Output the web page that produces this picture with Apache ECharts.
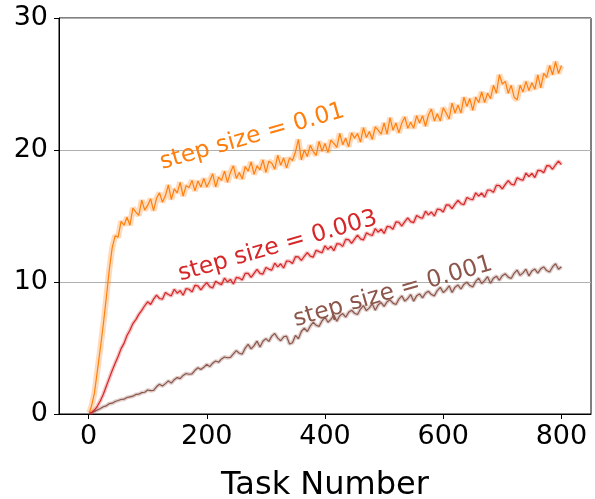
<!DOCTYPE html>
<html>
<head>
<meta charset="utf-8">
<script src="https://cdn.jsdelivr.net/npm/echarts@6/dist/echarts.min.js"></script>
<style>html,body{margin:0;padding:0;background:#fff;}#c{width:595px;height:499px;}</style>
</head>
<body>
<div id="c"></div>
<script>
const tasks = [1,5,10,15,20,25,30,35,40,45,50,55,60,65,70,75,80,85,90,95,100,105,110,115,120,125,130,135,140,145,150,155,160,165,170,175,180,185,190,195,200,205,210,215,220,225,230,235,240,245,250,255,260,265,270,275,280,285,290,295,300,305,310,315,320,325,330,335,340,345,350,355,360,365,370,375,380,385,390,395,400,405,410,415,420,425,430,435,440,445,450,455,460,465,470,475,480,485,490,495,500,505,510,515,520,525,530,535,540,545,550,555,560,565,570,575,580,585,590,595,600,605,610,615,620,625,630,635,640,645,650,655,660,665,670,675,680,685,690,695,700,705,710,715,720,725,730,735,740,745,750,755,760,765,770,775,780,785,790,795,800];

const step001 = [0.1,0.6,1.6,3.3,5.0,6.8,8.8,10.9,12.6,13.5,13.4,14.6,14.3,14.9,14.3,15.6,15.3,15.05,16.2,15.45,15.8,16.3,15.4,16.35,16.75,16.05,16.55,17.35,16.25,17.05,16.75,17.55,16.5,17.3,17.15,17.7,16.9,17.65,17.2,17.85,17.2,17.65,18.2,17.2,17.95,17.7,18.4,17.55,18.3,18.8,17.85,18.3,17.8,18.75,18.4,19.1,18.15,18.8,18.5,19.25,18.3,19.15,19.0,18.55,19.6,18.85,19.4,18.65,19.4,19.2,19.85,20.8,19.25,20.0,19.5,20.35,19.9,19.6,20.65,19.9,20.5,19.8,20.75,20.5,20.2,21.25,20.4,20.9,20.25,21.3,20.9,21.25,20.6,21.7,20.95,21.4,20.8,21.75,21.5,21.2,22.05,21.2,22.45,21.5,22.05,21.3,22.05,22.5,21.65,22.1,21.65,22.6,22.05,22.6,21.8,22.65,23.1,22.2,22.75,22.2,23.2,22.8,22.35,23.55,22.8,23.4,22.8,24.0,23.3,23.9,23.0,24.0,23.6,24.4,23.6,24.3,23.9,24.9,24.3,25.7,25.0,25.2,24.3,24.9,24.0,23.8,24.9,24.4,25.2,24.5,25.1,24.6,25.7,24.7,25.8,25.5,26.4,25.7,26.7,25.8,26.4];

const step0003 = [0.05,0.1,0.3,0.6,1.0,1.5,2.1,2.7,3.3,3.85,4.35,4.95,5.35,5.95,6.35,6.85,7.15,7.55,7.85,8.2,
8.5,8.3,8.7,9.0,8.75,8.7,9.2,9.05,8.95,9.45,9.15,9.35,9.0,9.5,9.45,9.25,9.75,
9.7,9.4,9.7,9.95,9.65,9.55,10.05,9.9,9.8,10.3,10.0,10.2,9.85,10.35,10.3,10.15,10.65,
10.65,10.35,10.65,10.95,10.65,10.6,11.1,10.98,10.9,11.43,11.15,11.38,11.06,11.59,11.57,11.4,11.92,
11.9,11.63,11.95,12.23,11.96,11.88,12.4,12.3,12.22,12.74,12.47,12.7,12.37,12.9,12.88,12.7,13.23,
13.21,12.93,13.25,13.55,13.27,13.19,13.72,13.6,13.52,14.05,13.78,14.0,13.68,14.21,14.18,14.0,14.55,
14.52,14.24,14.57,14.85,14.57,14.5,15.03,14.9,14.83,15.36,15.08,15.3,15.0,15.52,15.49,15.3,15.84,
15.83,15.56,15.9,16.19,15.93,15.86,16.4,16.29,16.23,16.76,16.5,16.74,16.43,16.96,16.95,16.79,17.33,
17.31,17.05,17.39,17.68,17.41,17.35,17.89,17.78,17.71,18.25,17.99,18.23,17.91,18.45,18.44,18.28,18.81,
18.8,18.54,18.88,19.16,18.9];

const step0001 = [0.05,0.1,0.2,0.3,0.42,0.55,0.62,0.78,0.82,0.95,1.02,1.1,1.12,1.25,1.3,1.35,1.48,1.5,1.62,1.65,
1.82,1.77,1.79,2.06,2.25,2.12,2.3,2.51,2.34,2.6,2.76,2.68,2.92,3.07,3.01,3.04,3.31,3.5,3.37,3.54,3.76,3.59,3.85,4.01,3.92,4.17,4.32,4.26,4.29,4.55,
4.8,4.6,4.54,4.99,5.28,4.93,5.18,5.52,5.07,5.51,5.71,5.5,5.9,6.1,5.75,5.55,5.85,5.9,5.3,5.4,5.95,5.7,6.25,6.5,6.25,6.65,
6.95,6.72,6.64,7.06,7.33,6.95,7.17,7.5,7.02,7.44,7.61,7.33,7.7,7.86,7.63,7.54,7.95,8.21,7.83,8.04,8.35,7.86,8.28,8.44,8.15,8.5,
8.65,8.4,8.3,8.7,8.95,8.55,8.75,9.05,8.55,8.95,9.1,8.8,9.15,9.3,9.05,8.95,9.35,9.6,9.2,9.4,9.71,9.21,9.61,9.77,9.47,9.82,
9.98,9.73,9.63,10.04,10.29,9.89,10.1,10.4,9.9,10.29,10.44,10.13,10.48,10.62,10.37,10.26,10.66,10.9,10.5,10.69,10.97,10.46,10.84,10.98,10.67,11.0,
11.14,10.87,10.76,11.14,11.38,10.96,11.15];

const xTicks = [0, 200, 400, 600, 800];
const labels = [
  {text: 'step size = 0.01', at: [277, 21.0], color: '#ff7f0e'},
  {text: 'step size = 0.003', at: [320, 12.7], color: '#d62728'},
  {text: 'step size = 0.001', at: [515, 9.25], color: '#8c564b'}
];

const chart = echarts.init(document.getElementById('c'), null, {renderer: 'canvas'});
const font = 'DejaVu Sans';
function pairs(vals) { return tasks.map((t, i) => [t, vals[i]]); }
function mk(name, vals, color, bandW) {
  return [
    {name: name + ' band', type: 'line', data: pairs(vals), showSymbol: false, silent: true,
     lineStyle: {color: color, width: bandW, opacity: 0.28}, z: 1},
    {name: name, type: 'line', data: pairs(vals), showSymbol: false, silent: true,
     lineStyle: {color: color, width: 1.2}, z: 2}
  ];
}
chart.setOption({
  animation: false,
  grid: {left: 59, right: 4, top: 18, bottom: 85, containLabel: false, outerBoundsMode: 'none',
         show: true, borderColor: '#000', borderWidth: 1},
  xAxis: {
    type: 'value', min: -50, max: 850,
    name: 'Task Number', nameLocation: 'middle', nameGap: 56,
    nameTextStyle: {fontFamily: font, fontSize: 32, color: '#000'},
    axisLine: {show: true, onZero: false, lineStyle: {color: '#000', width: 1}},
    axisTick: {show: true, customValues: xTicks, length: 5, lineStyle: {color: '#000'}},
    axisLabel: {customValues: xTicks, fontFamily: font, fontSize: 27, color: '#000', margin: 9},
    splitLine: {show: false}
  },
  yAxis: {
    type: 'value', min: 0, max: 30, interval: 10,
    axisLine: {show: true, onZero: false, lineStyle: {color: '#000', width: 1}},
    axisTick: {show: true, length: 5, lineStyle: {color: '#000'}},
    axisLabel: {fontFamily: font, fontSize: 27, color: '#000', margin: 11},
    splitLine: {show: true, lineStyle: {color: '#b0b0b0', width: 1}}
  },
  series: [].concat(
    mk('step size = 0.001', step0001, '#8c564b', 4),
    mk('step size = 0.003', step0003, '#d62728', 4),
    mk('step size = 0.01', step001, '#ff7f0e', 6)
  )
});
const g = labels.map(l => {
  const p = chart.convertToPixel({gridIndex: 0}, l.at);
  return {type: 'text', x: p[0], y: p[1], rotation: 16 * Math.PI / 180, z: 10,
    style: {text: l.text, fill: l.color, font: '23.5px "DejaVu Sans"', align: 'center', verticalAlign: 'middle'}};
});
chart.setOption({graphic: g});
</script>
</body>
</html>
